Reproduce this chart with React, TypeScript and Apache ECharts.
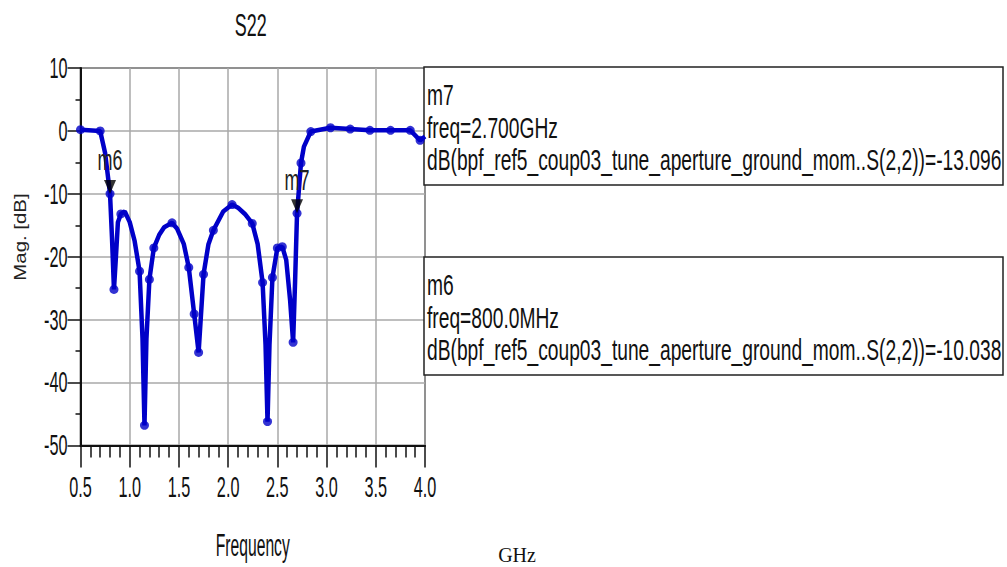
import React, { useEffect, useRef } from "react";
import * as echarts from "echarts";

// ---- data ----
const freqGHz = [
  0.5, 0.7, 0.75, 0.8, 0.82, 0.84, 0.86, 0.88, 0.91, 0.95, 1.0, 1.05, 1.1, 1.13, 1.15, 1.17, 1.2, 1.245,
  1.3, 1.35, 1.43, 1.48, 1.55, 1.6, 1.655, 1.7, 1.75, 1.8, 1.85, 1.95, 2.04, 2.1, 2.17, 2.245, 2.3,
  2.35, 2.38, 2.4, 2.42, 2.45, 2.5, 2.55, 2.59, 2.63, 2.66, 2.68, 2.7, 2.74, 2.77, 2.84, 3.04, 3.24,
  3.44, 3.65, 3.85, 3.95, 4.0,
];
const s22Db = [
  0.2, 0.0, -3.5, -10.0, -17.0, -25.2, -20.0, -14.5, -13.2, -12.8, -14.5, -17.5, -22.3, -33.0, -46.8,
  -33.0, -23.6, -18.6, -16.5, -15.3, -14.6, -15.5, -18.0, -21.7, -29.1, -35.2, -22.8, -18.0, -15.8,
  -12.8, -11.7, -12.2, -13.2, -14.7, -18.0, -24.1, -34.0, -46.2, -34.0, -23.3, -18.6, -18.4, -20.5,
  -27.0, -33.6, -24.0, -13.1, -5.1, -2.5, -0.1, 0.5, 0.3, 0.1, 0.1, 0.1, -1.5, -0.9,
];
// frequencies where the simulator drew a sample dot
const sampleFreqGHz = [
  0.5, 0.7, 0.8, 0.84, 0.91, 1.1, 1.15, 1.2, 1.245, 1.43, 1.6, 1.655, 1.7, 1.75, 1.85, 2.04, 2.245,
  2.35, 2.4, 2.45, 2.5, 2.55, 2.66, 2.7, 2.74, 2.84, 3.04, 3.24, 3.44, 3.65, 3.85, 3.95,
];
const markerNames = ["m6", "m7"];
const markerFreqGHz = [0.8, 2.7];
const markerDb = [-10.038, -13.096];
const markerFreqText = ["800.0MHz", "2.700GHz"];
const traceName = "dB(bpf_ref5_coup03_tune_aperture_ground_mom..S(2,2))";
const xTickValues = [0.5, 1.0, 1.5, 2.0, 2.5, 3.0, 3.5, 4.0];
const yTickValues = [10, 0, -10, -20, -30, -40, -50];
const xRange = { min: 0.5, max: 4.0, interval: 0.5 };
const yRange = { min: -50, max: 10, interval: 10 };

const SANS = '"Liberation Sans", Arial, sans-serif';
const BLUE = "#0000c8";

export default function App() {
  const ref = useRef<HTMLDivElement>(null);

  useEffect(() => {
    if (!ref.current) return;
    const chart = echarts.init(ref.current, null, { renderer: "svg" });

    const narrowText = (
      text: string,
      x: number,
      y: number,
      size: number,
      sx: number,
      sy: number,
      align: string = "center",
      color = "#111"
    ) => ({
      type: "text",
      x,
      y,
      scaleX: sx,
      scaleY: sy,
      z: 10,
      style: {
        text,
        font: `${size}px ${SANS}`,
        fill: color,
        textAlign: align,
        textVerticalAlign: "middle",
      },
    });

    const boxLines = (i: number) => [
      markerNames[i],
      "freq=" + markerFreqText[i],
      traceName + "=" + markerDb[i].toFixed(3),
    ];

    const makeBox = (i: number, top: number) => ({
      type: "group",
      x: 424,
      y: top,
      z: 20,
      children: [
        {
          type: "rect",
          shape: { x: 0, y: 0, width: 579, height: 118 },
          style: { fill: "#fff", stroke: "#222", lineWidth: 1.5 },
        },
        ...boxLines(i).map((t, k) => ({
          type: "text",
          x: 3,
          y: 28 + k * 32.5,
          scaleX: 0.74,
          scaleY: 1.12,
          style: {
            text: t,
            font: `26px ${SANS}`,
            fill: "#111",
            textAlign: "left",
            textVerticalAlign: "middle",
          },
        })),
      ],
    });

    const sampleData = sampleFreqGHz.map((f) => {
      const idx = freqGHz.indexOf(f);
      return [f, s22Db[idx]];
    });

    const option: any = {
      animation: false,
      backgroundColor: "#fff",
      grid: {
        left: 80.5,
        right: 582,
        top: 68,
        bottom: 121.5,
        show: true,
        borderColor: "#111",
        borderWidth: 1.5,
        backgroundColor: "#fff",
      },
      xAxis: {
        type: "value",
        min: xRange.min,
        max: xRange.max,
        interval: xRange.interval,
        axisLine: { show: true, onZero: false, lineStyle: { color: "#111", width: 2 } },
        axisTick: { show: true, length: 22, lineStyle: { color: "#111", width: 1.5 } },
        minorTick: { show: true, splitNumber: 5, length: 12, lineStyle: { color: "#111", width: 1.5 } },
        axisLabel: { show: false },
        splitLine: { show: true, lineStyle: { color: "#a8a8a8", width: 1.5 } },
      },
      yAxis: {
        type: "value",
        min: yRange.min,
        max: yRange.max,
        interval: yRange.interval,
        axisLine: { show: true, onZero: false, lineStyle: { color: "#111", width: 2 } },
        axisTick: { show: true, length: 13, lineStyle: { color: "#111", width: 1.5 } },
        minorTick: { show: true, splitNumber: 2, length: 5, lineStyle: { color: "#111", width: 1.5 } },
        axisLabel: { show: false },
        splitLine: { show: true, lineStyle: { color: "#a8a8a8", width: 1.5 } },
      },
      series: [
        {
          type: "line",
          data: freqGHz.map((f, i) => [f, s22Db[i]]),
          showSymbol: false,
          symbol: "none",
          lineStyle: { color: BLUE, width: 4.5 },
          itemStyle: { color: BLUE },
          z: 3,
        },
        {
          type: "scatter",
          data: sampleData,
          symbol: "circle",
          symbolSize: 9,
          itemStyle: { color: BLUE },
          z: 4,
        },
        {
          type: "scatter",
          data: markerNames.map((n, i) => ({ name: n, value: [markerFreqGHz[i], markerDb[i]] })),
          symbol: "triangle",
          symbolRotate: 180,
          symbolSize: [12, 14],
          symbolOffset: [0, -7],
          itemStyle: { color: "#000" },
          z: 5,
        },
      ],
    };

    chart.setOption(option);

    // tick labels, titles and marker labels positioned through the chart's own axes
    const toPx = (x: number, y: number) => chart.convertToPixel({ gridIndex: 0 }, [x, y]) as number[];
    const p0 = toPx(xRange.min, yRange.min);
    const p1 = toPx(xRange.max, yRange.max);
    const left = p0[0];
    const right = p1[0];
    const bottom = p0[1];
    const top = p1[1];

    const graphics: any[] = [];
    xTickValues.forEach((v) => {
      const p = toPx(v, yRange.min);
      graphics.push(narrowText(v.toFixed(1), p[0], bottom + 42, 28, 0.58, 1.05));
    });
    yTickValues.forEach((v) => {
      const p = toPx(xRange.min, v);
      graphics.push(narrowText(String(v), left - 13, p[1], 28, 0.58, 1.05, "right"));
    });
    markerNames.forEach((n, i) => {
      const p = toPx(markerFreqGHz[i], markerDb[i]);
      graphics.push(narrowText(n, p[0], p[1] - 34, 25, 0.72, 1.2, "center", "#222"));
    });
    graphics.push(narrowText("S22", (left + right) / 2 - 2, 25, 28, 0.64, 1.1));
    graphics.push(narrowText("Frequency", (left + right) / 2, bottom + 100, 28, 0.56, 1.1));
    graphics.push({
      type: "text",
      x: 20,
      y: 237,
      rotation: Math.PI / 2,
      scaleX: 1.2,
      scaleY: 1.0,
      style: {
        text: "Mag. [dB]",
        font: `17px ${SANS}`,
        fill: "#222",
        textAlign: "center",
        textVerticalAlign: "middle",
      },
    });
    graphics.push({
      type: "text",
      x: 517,
      y: 555,
      style: {
        text: "GHz",
        font: '20px "Liberation Serif", "DejaVu Serif", serif',
        fill: "#111",
        textAlign: "center",
        textVerticalAlign: "middle",
      },
    });
    graphics.push(makeBox(1, top - 1));
    graphics.push(makeBox(0, top + 189));

    chart.setOption({ graphic: graphics });
    return () => chart.dispose();
  }, []);

  return (
    <div
      ref={ref}
      style={{ position: "fixed", left: 0, top: 0, width: 1007, height: 567, background: "#fff" }}
    />
  );
}
